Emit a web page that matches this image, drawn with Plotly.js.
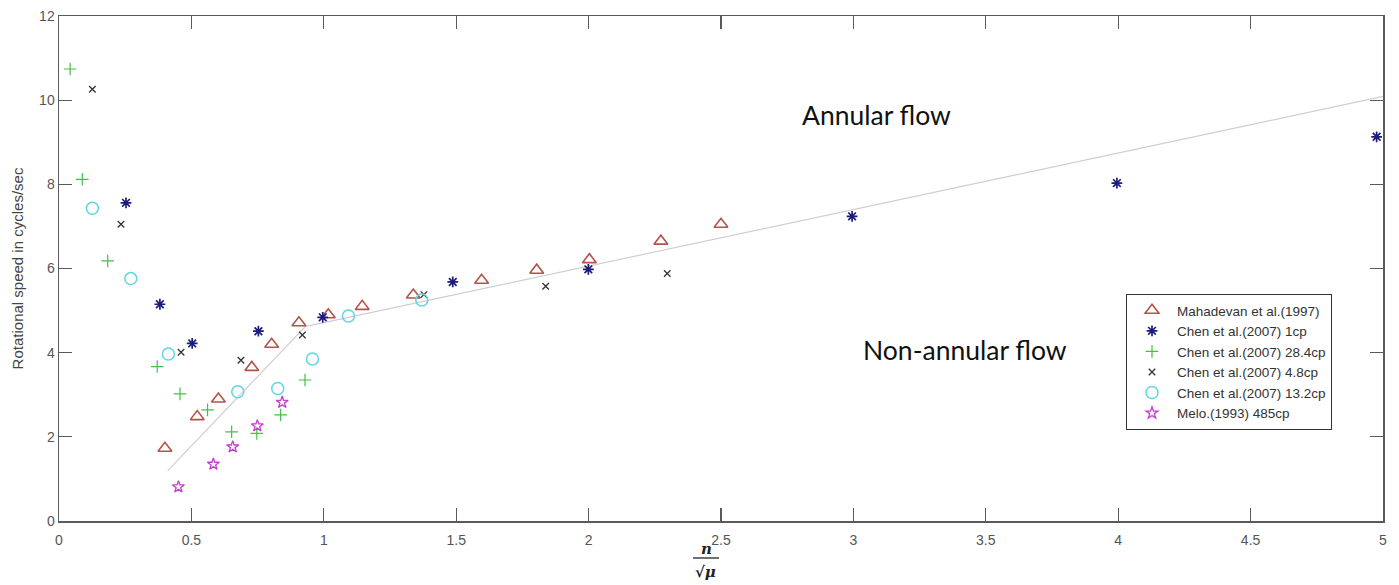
<!DOCTYPE html>
<html>
<head>
<meta charset="utf-8">
<script src="https://cdn.plot.ly/plotly-3.0.1.min.js"></script>
<style>
html,body{margin:0;padding:0;background:#fff;}
#chart{width:1399px;height:585px;}
</style>
</head>
<body>
<div id="chart"></div>
<script>
// ---- data ----
const mahadevanX = [0.40, 0.522, 0.602, 0.728, 0.803, 0.906, 1.017, 1.145, 1.338, 1.596, 1.804, 2.003, 2.273, 2.50];
const mahadevanY = [1.73, 2.48, 2.90, 3.65, 4.20, 4.71, 4.90, 5.10, 5.37, 5.72, 5.96, 6.21, 6.65, 7.05];

const chen1X = [0.253, 0.381, 0.503, 0.753, 0.996, 1.487, 1.999, 2.995, 3.995, 4.976];
const chen1Y = [7.56, 5.15, 4.22, 4.51, 4.84, 5.68, 5.98, 7.24, 8.03, 9.13];

const chen284X = [0.042, 0.088, 0.184, 0.371, 0.457, 0.561, 0.652, 0.747, 0.837, 0.929];
const chen284Y = [10.74, 8.12, 6.18, 3.67, 3.02, 2.64, 2.12, 2.08, 2.52, 3.35];

const chen48X = [0.126, 0.234, 0.461, 0.687, 0.919, 1.378, 1.838, 2.297];
const chen48Y = [10.26, 7.05, 4.01, 3.82, 4.42, 5.38, 5.58, 5.88];

const chen132X = [0.126, 0.271, 0.413, 0.675, 0.826, 0.957, 1.093, 1.370];
const chen132Y = [7.43, 5.76, 3.97, 3.07, 3.15, 3.85, 4.87, 5.25];

const meloX = [0.451, 0.583, 0.656, 0.749, 0.843];
const meloY = [0.81, 1.35, 1.76, 2.26, 2.82];

const trendX = [0.41, 0.93, 5.0];
const trendY = [1.19, 4.62, 10.09];

const seriesNames = ["Mahadevan et al.(1997)", "Chen et al.(2007) 1cp", "Chen et al.(2007) 28.4cp",
                     "Chen et al.(2007) 4.8cp", "Chen et al.(2007) 13.2cp", "Melo.(1993) 485cp"];
const xTicks = [0, 0.5, 1, 1.5, 2, 2.5, 3, 3.5, 4, 4.5, 5];
const yTicks = [0, 2, 4, 6, 8, 10, 12];

// ---- chart ----
const font = "Liberation Sans, Arial, sans-serif";
const traces = [
  {x: trendX, y: trendY, mode: "lines", line: {color: "#cfcfcf", width: 1.2}, showlegend: false, hoverinfo: "skip"},
  {x: mahadevanX, y: mahadevanY, name: seriesNames[0], mode: "markers", type: "scatter",
   marker: {symbol: "triangle-up-open", size: 12, color: "#b5524a", line: {width: 1.6, color: "#b5524a"}}},
  {x: chen1X, y: chen1Y, name: seriesNames[1], mode: "markers", type: "scatter",
   marker: {symbol: "asterisk-open", size: 9, color: "#1c1c7c", line: {width: 1.7, color: "#1c1c7c"}}},
  {x: chen284X, y: chen284Y, name: seriesNames[2], mode: "markers", type: "scatter",
   marker: {symbol: "cross-thin-open", size: 9, color: "#44c044", line: {width: 1.2, color: "#44c044"}}},
  {x: chen48X, y: chen48Y, name: seriesNames[3], mode: "markers", type: "scatter",
   marker: {symbol: "x-thin-open", size: 6.5, color: "#333333", line: {width: 1.3, color: "#333333"}}},
  {x: chen132X, y: chen132Y, name: seriesNames[4], mode: "markers", type: "scatter",
   marker: {symbol: "circle-open", size: 12, color: "#5fd6e2", line: {width: 1.5, color: "#5fd6e2"}}},
  {x: meloX, y: meloY, name: seriesNames[5], mode: "markers", type: "scatter",
   marker: {symbol: "star-open", size: 9, color: "#c63cd0", line: {width: 1.3, color: "#c63cd0"}}}
];

const L = 59, T = 16, W = 1324, H = 505;
function px(xp){ return (xp - L) / W; }
function py(yp){ return (T + H - yp) / H; }

const layout = {
  width: 1399, height: 585,
  margin: {l: L, r: 1399 - L - W, t: T, b: 585 - T - H, pad: 0},
  paper_bgcolor: "#ffffff", plot_bgcolor: "#ffffff",
  font: {family: font, color: "#555555", size: 14},
  showlegend: true,
  legend: {
    x: px(1126), y: py(294), xanchor: "left", yanchor: "top",
    bgcolor: "#ffffff", bordercolor: "#333333", borderwidth: 1,
    font: {family: font, size: 13.5, color: "#333333"},
    itemwidth: 40, tracegroupgap: 0
  },
  xaxis: {
    range: [0, 5], tickvals: xTicks, ticktext: xTicks.map(String),
    showgrid: false, zeroline: false,
    showline: true, linecolor: "#5a5a5a", linewidth: 1.5, mirror: "ticks",
    ticks: "inside", ticklen: 13, tickwidth: 1.2, tickcolor: "#5a5a5a",
    ticklabelstandoff: 6,
    tickfont: {family: font, size: 14, color: "#555555"}
  },
  yaxis: {
    range: [0, 12], tickvals: yTicks, ticktext: yTicks.map(String),
    showgrid: false, zeroline: false,
    showline: true, linecolor: "#5a5a5a", linewidth: 1.5, mirror: "ticks",
    ticks: "inside", ticklen: 13, tickwidth: 1.2, tickcolor: "#5a5a5a",
    tickfont: {family: font, size: 14, color: "#555555"},
    title: {text: "Rotational speed in cycles/sec", font: {family: font, size: 15, color: "#444444"}, standoff: 12}
  },
  annotations: [
    {xref: "paper", yref: "paper", x: px(876), y: py(115), text: "Annular flow", showarrow: false,
     xanchor: "center", yanchor: "middle", font: {family: "Lato, Open Sans, sans-serif", size: 26.5, color: "#111111"}},
    {xref: "paper", yref: "paper", x: px(965), y: py(350), text: "Non-annular flow", showarrow: false,
     xanchor: "center", yanchor: "middle", font: {family: "Lato, Open Sans, sans-serif", size: 26.5, color: "#111111"}},
    {xref: "paper", yref: "paper", x: px(706), y: py(549), text: "<b><i>n</i></b>", showarrow: false,
     xanchor: "center", yanchor: "middle", font: {family: "DejaVu Serif, Liberation Serif, serif", size: 15, color: "#222222"}},
    {xref: "paper", yref: "paper", x: px(705), y: py(572), text: "<b>√<i>μ</i></b>", showarrow: false,
     xanchor: "center", yanchor: "middle", font: {family: "DejaVu Serif, Liberation Serif, serif", size: 15, color: "#222222"}}
  ],
  shapes: [
    {type: "line", xref: "paper", yref: "paper", x0: px(693), x1: px(719), y0: py(558), y1: py(558),
     line: {color: "#222222", width: 1.3}}
  ]
};

Plotly.newPlot("chart", traces, layout, {displayModeBar: false, staticPlot: true});
</script>
</body>
</html>
